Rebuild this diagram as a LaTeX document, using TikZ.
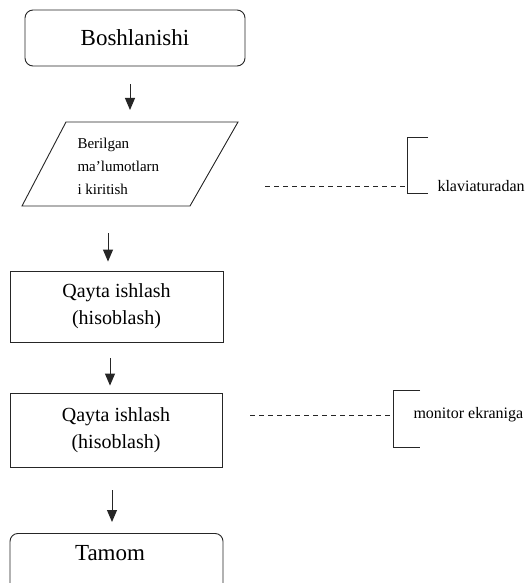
\documentclass[tikz,border=0pt]{standalone}
\usepackage{fontspec}
\setmainfont{Liberation Serif}
\usetikzlibrary{arrows.meta,calc}
\begin{document}
\begin{tikzpicture}[x=1pt,y=-1pt,
  line/.style={draw=black!85, line width=0.9pt},
  term/.style={line, rounded corners=8pt},
  procbox/.style={line, inner sep=0pt},
  arr/.style={line, line width=1pt, -{Triangle[length=12pt,width=10pt]}},
  big/.style={font=\fontsize{23}{26}\selectfont},
  mid/.style={font=\fontsize{20}{27}\selectfont, align=center},
  small/.style={font=\fontsize{15}{23}\selectfont, align=left},
  note/.style={font=\fontsize{16}{18}\selectfont},
  link/.style={line, line width=0.7pt, dash pattern=on 5pt off 4pt},
]
\useasboundingbox (0,0) rectangle (531,583);
\fill[white] (0,0) rectangle (531,583);

% start
\node[term, minimum width=220pt, minimum height=56pt, big] (start) at (135,38) {Boshlanishi};

% input parallelogram
\coordinate (pa) at (66,122);
\coordinate (pb) at (238,122);
\coordinate (pc) at (190,206);
\coordinate (pd) at (22,206);
\draw[line] (pa) -- (pb) -- (pc) -- (pd) -- cycle;
\node[small, anchor=west] (para) at (74,166) {Berilgan\\ma'lumotlarn\\i kiritish};
\coordinate (ptop) at (130,122);
\coordinate (pbot) at (108,206);
\coordinate (pright) at (197,186);

% process boxes
\node[procbox, minimum width=213pt, minimum height=71pt, mid] (proc1) at (116.5,306.5) {Qayta ishlash\\(hisoblash)};
\node[procbox, minimum width=212pt, minimum height=74pt, mid] (proc2) at (116,430) {Qayta ishlash\\(hisoblash)};

% end
\node[term, minimum width=213pt, minimum height=80pt, anchor=north] (stop) at (116.5,533) {};
\node[big] (stoptext) at (110,553) {Tamom};

% arrows
\draw[arr, shorten <=18pt, shorten >=12pt] (start.south -| ptop) -- (ptop);
\draw[arr, shorten <=27pt, shorten >=9pt] (pbot) -- (proc1.north -| pbot);
\draw[arr, shorten <=16pt, shorten >=7pt] ([xshift=-6.5pt]proc1.south) -- ([xshift=-6pt]proc2.north);
\draw[arr, shorten <=23pt, shorten >=11pt] ([xshift=-4pt]proc2.south) -- ([xshift=-4.5pt]stop.north);

% keyboard note
\coordinate (br1) at (407,186);
\draw[line] (428,137) -- (407,137) -- (407,193) -- (428,193);
\draw[link, shorten <=68pt] (pright) -- (br1);
\node[note, anchor=west] (kb) at (434,186) {klaviaturadan};

% monitor note
\coordinate (br2) at (393,415);
\draw[line] (420,390) -- (393,390) -- (393,447) -- (420,447);
\draw[link, shorten <=28pt] (proc2.east |- br2) -- (br2);
\node[note, anchor=west] (mon) at (410,415) {monitor ekraniga};
\end{tikzpicture}
\end{document}
